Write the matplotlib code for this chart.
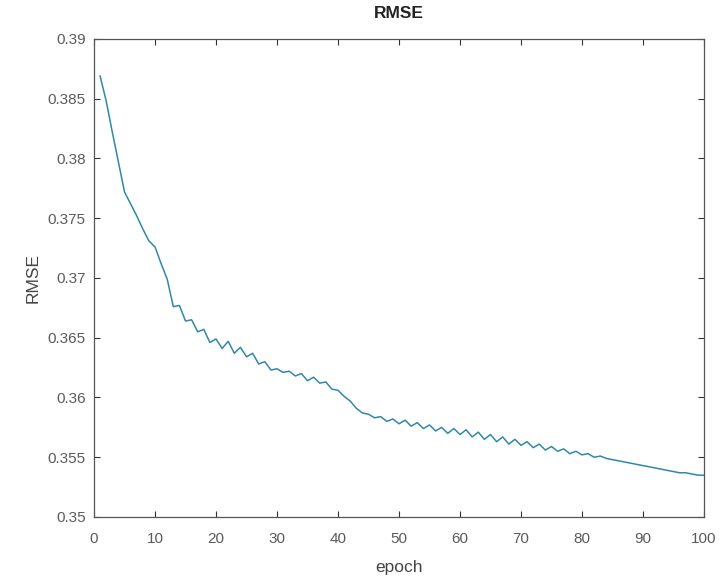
import matplotlib.pyplot as plt

epochs = list(range(1, 101))
rmse = [
    0.3869, 0.3848, 0.3822, 0.3797, 0.3772, 0.3762, 0.3752, 0.3741, 0.3731, 0.3726,
    0.3712, 0.3699, 0.3676, 0.3677, 0.3664, 0.3665, 0.3655, 0.3657, 0.3646, 0.3649,
    0.3641, 0.3647, 0.3637, 0.3642, 0.3634, 0.3637, 0.3628, 0.3630, 0.3623, 0.3624,
    0.3621, 0.3622, 0.3618, 0.3620, 0.3614, 0.3617, 0.3612, 0.3613, 0.3607, 0.3606,
    0.3601, 0.3597, 0.3591, 0.3587, 0.3586, 0.3583, 0.3584, 0.3580, 0.3582, 0.3578,
    0.3581, 0.3576, 0.3579, 0.3574, 0.3577, 0.3572, 0.3575, 0.3570, 0.3574, 0.3569,
    0.3573, 0.3567, 0.3571, 0.3565, 0.3569, 0.3563, 0.3567, 0.3561, 0.3565, 0.3560,
    0.3563, 0.3558, 0.3561, 0.3556, 0.3559, 0.3555, 0.3557, 0.3553, 0.3555, 0.3552,
    0.3553, 0.3550, 0.3551, 0.3549, 0.3548, 0.3547, 0.3546, 0.3545, 0.3544, 0.3543,
    0.3542, 0.3541, 0.3540, 0.3539, 0.3538, 0.3537, 0.3537, 0.3536, 0.3535, 0.3535,
]
xticks = [0, 10, 20, 30, 40, 50, 60, 70, 80, 90, 100]
yticks = [0.35, 0.355, 0.36, 0.365, 0.37, 0.375, 0.38, 0.385, 0.39]
ytick_labels = ["0.35", "0.355", "0.36", "0.365", "0.37", "0.375", "0.38", "0.385", "0.39"]

plt.rcParams["font.family"] = ["Liberation Sans", "DejaVu Sans"]

fig = plt.figure(figsize=(7.21, 5.82), dpi=100)
ax = fig.add_axes([0.1304, 0.1117, 0.8460, 0.8213])
ax.plot(epochs, rmse, color="#3088a8", linewidth=1.1)

ax.set_xlim(0, 100)
ax.set_ylim(0.35, 0.39)
ax.set_xticks(xticks)
ax.set_yticks(yticks)
ax.set_yticklabels(ytick_labels)

ax.tick_params(direction="in", length=4, width=0.8, colors="#333333",
               labelcolor="#5a5a5a", labelsize=11, top=True, right=True)
ax.tick_params(axis="x", pad=11)
ax.tick_params(axis="y", pad=6)
for s in ax.spines.values():
    s.set_color("#555555")
    s.set_linewidth(0.9)

ax.set_xlabel("epoch", fontsize=12.5, color="#444444", labelpad=10)
ax.set_ylabel("RMSE", fontsize=12.5, color="#444444", labelpad=5)
ax.set_title("RMSE", fontsize=12.5, fontweight="bold", color="#222222", pad=15)

fig.savefig("out.png", dpi=100)
